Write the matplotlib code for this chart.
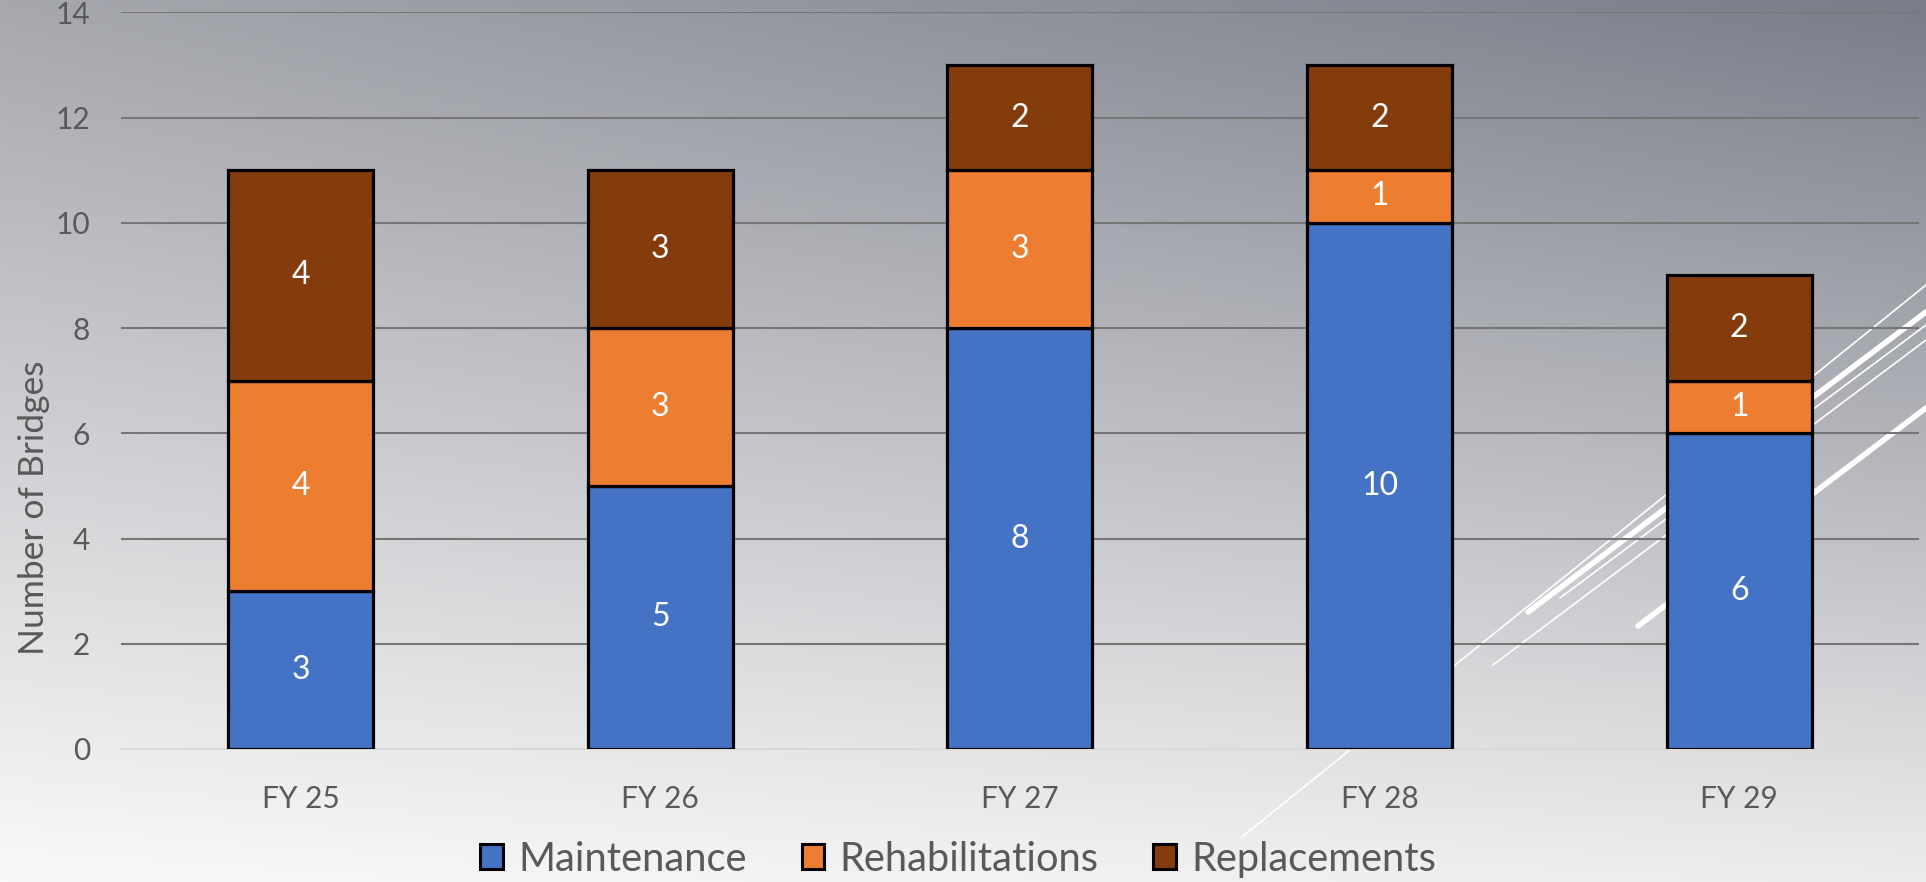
import numpy as np
import matplotlib
matplotlib.use("Agg")
import matplotlib.pyplot as plt
from matplotlib.patches import Patch

# data
years = ["FY 25", "FY 26", "FY 27", "FY 28", "FY 29"]
maintenance = [3, 5, 8, 10, 6]
rehabilitations = [4, 3, 3, 1, 1]
replacements = [4, 3, 2, 2, 2]

series_names = ["Maintenance", "Rehabilitations", "Replacements"]
series_colors = ["#4472C4", "#ED7D31", "#843C0C"]

W, H = 1926, 882
plt.rcParams["font.family"] = ["Lato", "DejaVu Sans"]

fig = plt.figure(figsize=(W / 100, H / 100), dpi=100)

# background: diagonal grey gradient plus a few white streaks
bg = fig.add_axes([0, 0, 1, 1], zorder=0)
tl = np.array([166, 168, 174]) / 255
tr = np.array([122, 125, 137]) / 255
bl = np.array([249, 249, 249]) / 255
br = np.array([236, 236, 236]) / 255
u = np.linspace(0, 1, 200)[None, :, None]
v = np.linspace(0, 1, 100)[:, None, None]
grad = (1 - v) * ((1 - u) * tl + u * tr) + v * ((1 - u) * bl + u * br)
bg.imshow(grad, extent=(0, W, H, 0), aspect="auto", interpolation="bilinear")
streaks = [
    ((1242, 837), (1926, 285), 1.2),
    ((1493, 665), (1926, 340), 1.2),
    ((1560, 598), (1926, 325), 1.2),
    ((1528, 612), (1926, 312), 4.0),
    ((1638, 626), (1926, 408), 4.0),
]
for (x0, y0), (x1, y1), lw in streaks:
    bg.plot([x0, x1], [y0, y1], color="white", lw=lw, solid_capstyle="round")
bg.set_xlim(0, W)
bg.set_ylim(H, 0)
bg.axis("off")

# main chart
ax_w = 1919 - 120.7
ax = fig.add_axes([120.7 / W, (H - 749) / H, ax_w / W, (749 - 12.3) / H], zorder=1)
ax.set_facecolor("none")

x = np.arange(len(years))
bw = 0.403
bottom = np.zeros(len(years))
for name, vals, col in zip(series_names, [maintenance, rehabilitations, replacements], series_colors):
    bars = ax.bar(x, vals, bw, bottom=bottom, color=col, edgecolor="black", linewidth=2.3,
                  label=name, zorder=3)
    ax.bar_label(bars, labels=[str(v) for v in vals], label_type="center",
                 color="white", fontsize=23)
    bottom += np.array(vals)

ax.set_xlim(-0.5, len(years) - 0.5)
ax.set_ylim(0, 14)
ax.set_yticks(np.arange(0, 15, 2))
ax.set_xticks(x)
ax.set_xticklabels(years)
ax.tick_params(axis="both", length=0, labelsize=21.5, labelcolor="#595959")
ax.tick_params(axis="y", pad=22)
ax.tick_params(axis="x", pad=26)
for y in np.arange(2, 15, 2):
    ax.axhline(y, color="#767676", lw=1.5, zorder=1)
for s in ["top", "right", "left"]:
    ax.spines[s].set_visible(False)
ax.spines["bottom"].set_color("#d9d9d9")
ax.spines["bottom"].set_linewidth(1.5)
ax.set_ylabel("Number of Bridges", fontsize=25.5, color="#595959")
ax.yaxis.set_label_coords((50 - 120.7) / ax_w, (749 - 508) / (749 - 12.3))

handles = [Patch(facecolor=c, edgecolor="black", linewidth=2.2) for c in series_colors]
fig.legend(handles, series_names, loc="center", bbox_to_anchor=(0.4975, 0.026), ncol=3,
           frameon=False, fontsize=28.7, labelcolor="#595959", handlelength=0.57,
           handleheight=0.6, handletextpad=0.38, columnspacing=1.38)

fig.savefig("out.png", dpi=100)
